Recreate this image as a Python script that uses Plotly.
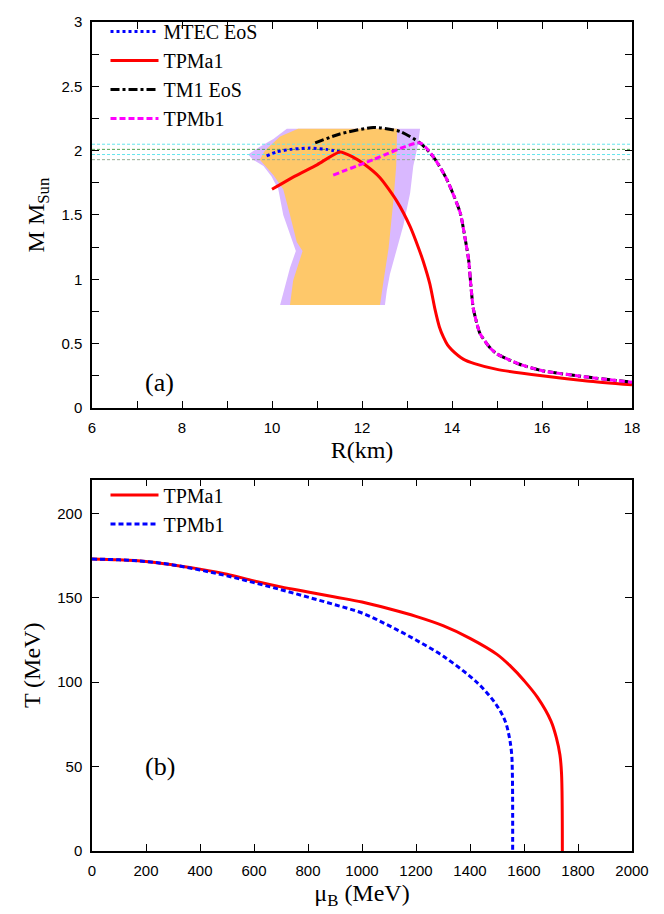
import plotly.graph_objects as go

# ---------------- Panel (a): mass-radius ----------------
# constraint bands (polygon outlines, R in km, M in M_sun)
band_outer_r = [10.33, 10.03, 9.73, 9.47, 9.58, 9.81, 9.99, 10.14, 10.25, 10.47, 10.53, 10.40, 10.29, 10.18,
                12.51, 12.55, 12.62, 12.77, 12.92, 13.07, 13.14, 13.25, 13.29, 10.33]
band_outer_m = [2.17, 2.09, 2.03, 1.97, 1.93, 1.88, 1.80, 1.70, 1.50, 1.29, 1.22, 1.09, 0.94, 0.80,
                0.80, 0.91, 1.04, 1.24, 1.42, 1.67, 1.88, 2.06, 2.17, 2.17]
band_inner_r = [10.58, 10.18, 9.84, 9.73, 10.03, 10.25, 10.40, 10.55, 10.68, 10.58, 10.47, 10.40,
                12.40, 12.48, 12.59, 12.70, 12.76, 12.78, 10.58]
band_inner_m = [2.17, 2.11, 2.00, 1.93, 1.81, 1.70, 1.50, 1.29, 1.22, 1.11, 0.99, 0.80,
                0.80, 0.99, 1.24, 1.62, 1.88, 2.17, 2.17]

# observed pulsar mass limits
obs_levels = [2.05, 2.01, 1.97, 1.93]
obs_colors = ["#66e6ee", "#4f9f4f", "#66e6ee", "#93ad93"]

mtec_r = [9.88, 10.10, 10.40, 10.84, 11.21, 11.51]
mtec_m = [1.96, 1.99, 2.01, 2.02, 2.01, 1.99]

tpma1_r = [10.00, 10.50, 11.00, 11.51, 11.80, 12.03, 12.40, 12.77, 13.07, 13.25, 13.36, 13.51, 13.62,
           13.72, 13.81, 13.90, 14.00, 14.25, 14.50, 15.00, 16.00, 17.00, 18.00]
tpma1_m = [1.70, 1.80, 1.89, 1.99, 1.95, 1.90, 1.79, 1.61, 1.41, 1.25, 1.14, 0.96, 0.77,
           0.63, 0.55, 0.49, 0.45, 0.38, 0.345, 0.30, 0.25, 0.21, 0.18]

hadron_tail_r = [13.29, 13.59, 13.88, 14.18, 14.30, 14.37, 14.42, 14.47, 14.55, 14.62, 14.84, 15.00,
                 15.50, 16.00, 17.00, 18.00]
hadron_tail_m = [2.06, 1.95, 1.78, 1.52, 1.30, 1.15, 0.95, 0.78, 0.66, 0.58, 0.47, 0.42,
                 0.34, 0.29, 0.24, 0.20]

tm1_arc_r = [10.96, 11.51, 12.25, 12.84]
tm1_arc_m = [2.06, 2.13, 2.18, 2.15]

tpmb1_branch_r = [11.36, 12.25]
tpmb1_branch_m = [1.81, 1.93]

# ---------------- Panel (b): phase diagram ----------------
mu_a = [0, 100, 200, 300, 400, 500, 600, 700, 800, 900, 1000, 1100, 1200, 1300, 1400, 1500,
        1550, 1600, 1650, 1700, 1720, 1733, 1739, 1742]
t_a = [173, 172.5, 171.5, 169.5, 167, 164, 160, 156.5, 153.5, 150.5, 147.5, 143.5, 139, 133.5, 126, 116.5,
       109.5, 101, 91, 77, 67, 57, 46, 0]
mu_b = [0, 100, 200, 300, 400, 500, 600, 700, 800, 900, 1000, 1100, 1200, 1300, 1400, 1450,
        1500, 1530, 1545, 1554, 1557, 1558]
t_b = [173, 172.5, 171.5, 169.5, 166.5, 163, 159, 154.8, 150.4, 145.9, 141, 133.5, 125, 115.5, 103.5, 96,
       86, 77, 68, 58, 45, 0]

SERIF = "Liberation Serif, Times New Roman, serif"
SANS = "Liberation Sans, Arial, sans-serif"

fig = go.Figure()

fig.add_trace(go.Scatter(x=band_outer_r, y=band_outer_m, mode="lines", fill="toself",
                         fillcolor="#d9b8ff", line=dict(width=0, color="#d9b8ff"),
                         showlegend=False, hoverinfo="skip", xaxis="x", yaxis="y"))
fig.add_trace(go.Scatter(x=band_inner_r, y=band_inner_m, mode="lines", fill="toself",
                         fillcolor="#fec86a", line=dict(width=0, color="#fec86a"),
                         showlegend=False, hoverinfo="skip", xaxis="x", yaxis="y"))
for lev, col in zip(obs_levels, obs_colors):
    fig.add_trace(go.Scatter(x=[6, 18], y=[lev, lev], mode="lines",
                             line=dict(color=col, width=1, dash="3px,2px"),
                             showlegend=False, hoverinfo="skip", xaxis="x", yaxis="y"))

SPL = dict(shape="spline", smoothing=0.6)
SPL_B = dict(shape="spline", smoothing=1.0)

fig.add_trace(go.Scatter(x=mtec_r, y=mtec_m, mode="lines", name="MTEC EoS",
                         line=dict(color="#0000ff", width=3, dash="3px,3px", **SPL),
                         legend="legend", xaxis="x", yaxis="y"))
fig.add_trace(go.Scatter(x=tpma1_r, y=tpma1_m, mode="lines", name="TPMa1",
                         line=dict(color="#ff0000", width=3, **SPL),
                         legend="legend", xaxis="x", yaxis="y"))
fig.add_trace(go.Scatter(x=tm1_arc_r + hadron_tail_r, y=tm1_arc_m + hadron_tail_m, mode="lines",
                         name="TM1 EoS",
                         line=dict(color="#000000", width=3, dash="9px,3px,3px,3px", **SPL),
                         legend="legend", xaxis="x", yaxis="y"))
fig.add_trace(go.Scatter(x=tpmb1_branch_r + hadron_tail_r, y=tpmb1_branch_m + hadron_tail_m,
                         mode="lines", name="TPMb1",
                         line=dict(color="#ff00ff", width=3, dash="6px,3px", **SPL),
                         legend="legend", xaxis="x", yaxis="y"))

fig.add_trace(go.Scatter(x=mu_a, y=t_a, mode="lines", name="TPMa1",
                         line=dict(color="#ff0000", width=3, **SPL_B),
                         legend="legend2", xaxis="x2", yaxis="y2"))
fig.add_trace(go.Scatter(x=mu_b, y=t_b, mode="lines", name="TPMb1",
                         line=dict(color="#0000ff", width=3, dash="5px,3px", **SPL_B),
                         legend="legend2", xaxis="x2", yaxis="y2"))

axis_common = dict(showgrid=False, zeroline=False, showline=True, linecolor="black", linewidth=1.5,
                   mirror="allticks", ticks="inside", ticklen=7, tickwidth=1.2, tickcolor="black",
                   tickfont=dict(family=SANS, size=15, color="black"), ticklabelstandoff=5)

legend_common = dict(xanchor="left", yanchor="top", bgcolor="rgba(0,0,0,0)",
                     font=dict(family=SERIF, size=20, color="black"), tracegroupgap=0,
                     itemwidth=48)

fig.update_layout(
    width=664, height=914, plot_bgcolor="white", paper_bgcolor="white",
    font=dict(family=SERIF, color="black"),
    margin=dict(l=92, r=32, t=13, b=57),
    xaxis=dict(axis_common, domain=[0, 1], range=[6, 18], dtick=2, tick0=6, anchor="y",
               minor=dict(dtick=1, ticks="inside", ticklen=7, tickcolor="black", showgrid=False),
               title=dict(text="R(km)", font=dict(family=SERIF, size=24, color="black"), standoff=6)),
    yaxis=dict(axis_common, domain=[0.5344, 1], range=[0, 3], dtick=0.5, tick0=0, anchor="x",
               minor=dict(dtick=0.25, ticks="inside", ticklen=7, tickcolor="black", showgrid=False),
               title=dict(text="M M<sub>Sun</sub>", font=dict(family=SERIF, size=24, color="black"), standoff=10)),
    xaxis2=dict(axis_common, domain=[0, 1], range=[0, 2000], dtick=200, tick0=0, anchor="y2",
                title=dict(text="μ<sub>B</sub> (MeV)", font=dict(family=SERIF, size=24, color="black"), standoff=6)),
    yaxis2=dict(axis_common, domain=[0, 0.4479], range=[0, 220], dtick=50, tick0=0, anchor="x2",
                title=dict(text="T (MeV)", font=dict(family=SERIF, size=24, color="black"), standoff=10)),
    legend=dict(legend_common, x=0.025, y=1.012),
    legend2=dict(legend_common, x=0.025, y=0.453),
    annotations=[
        dict(text="(a)", x=7.5, y=0.2, xref="x", yref="y", showarrow=False,
             font=dict(family=SERIF, size=26, color="black")),
        dict(text="(b)", x=250, y=50, xref="x2", yref="y2", showarrow=False,
             font=dict(family=SERIF, size=26, color="black")),
    ],
)

fig.write_html("out.html")
